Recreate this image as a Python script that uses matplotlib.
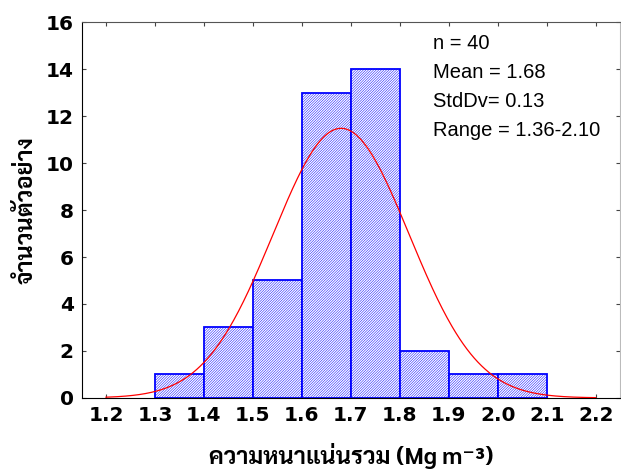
import numpy as np
import matplotlib
matplotlib.use("Agg")
import matplotlib.pyplot as plt
from matplotlib import font_manager

# ---- data ----
bin_edges = [1.3, 1.4, 1.5, 1.6, 1.7, 1.8, 1.9, 2.0, 2.1]
counts = [1, 3, 5, 13, 14, 2, 1, 1]
x_ticks = [1.2, 1.3, 1.4, 1.5, 1.6, 1.7, 1.8, 1.9, 2.0, 2.1, 2.2]
x_tick_labels = ["1.2", "1.3", "1.4", "1.5", "1.6", "1.7", "1.8", "1.9", "2.0", "2.1", "2.2"]
y_ticks = [0, 2, 4, 6, 8, 10, 12, 14, 16]
n_total = 40
curve_mean = 1.68
curve_sd = 0.139
stats_lines = ["n = 40", "Mean = 1.68", "StdDv= 0.13", "Range = 1.36-2.10"]
xlabel = "ความหนาแน่นรวม (Mg m⁻³)"
ylabel = "จำนวนตัวอย่าง"

bold_fonts = {f.name for f in font_manager.fontManager.ttflist
              if isinstance(f.weight, int) and f.weight >= 700 or f.weight == 'bold'}
thai_pref = ["Sarabun", "Noto Sans Thai Looped", "Noto Sans Thai", "Athiti", "Anuphan",
             "Bai Jamjuree", "Chakra Petch"]
thai_font = next((n for n in thai_pref if n in bold_fonts), None)
fam = ([thai_font] if thai_font else []) + ['DejaVu Sans']

plt.rcParams['hatch.linewidth'] = 0.35
plt.rcParams['hatch.color'] = '#5050ff'

fig = plt.figure(figsize=(6.21, 4.72), dpi=100)
ax = fig.add_axes([0.132, 0.157, 0.866, 0.796])

widths = np.diff(bin_edges)
ax.bar(bin_edges[:-1], counts, width=widths, align='edge', facecolor='white',
       edgecolor='blue', hatch='/' * 13, linewidth=1.3, zorder=2)

xs = np.linspace(1.2, 2.2, 400)
binw = bin_edges[1] - bin_edges[0]
ys = n_total * binw / (curve_sd * np.sqrt(2 * np.pi)) * np.exp(-0.5 * ((xs - curve_mean) / curve_sd) ** 2)
ax.plot(xs, ys, color='red', linewidth=0.9, zorder=3)

ax.set_xlim(1.151, 2.249)
ax.set_ylim(0, 16)
ax.set_xticks(x_ticks)
ax.set_xticklabels(x_tick_labels)
ax.set_yticks(y_ticks)
ax.tick_params(direction='in', length=3, top=True, right=True, labelsize=14.5, pad=6,
               color='#444444')
for lab in ax.get_xticklabels() + ax.get_yticklabels():
    lab.set_fontweight('bold')
ax.spines['left'].set_color('black')
ax.spines['bottom'].set_color('black')
ax.spines['top'].set_color('#555555')
ax.spines['right'].set_color('#bbbbbb')

ax.set_xlabel(xlabel, fontsize=17, fontweight='bold', family=fam, labelpad=13)
ax.set_ylabel(ylabel, fontsize=17, fontweight='bold', family=fam, labelpad=6)

for i, s in enumerate(stats_lines):
    ax.text(0.652, 0.944 - i * 0.0771, s, transform=ax.transAxes, fontsize=14.5,
            family='Liberation Sans', va='center', ha='left')

fig.savefig("out.png", dpi=100)
